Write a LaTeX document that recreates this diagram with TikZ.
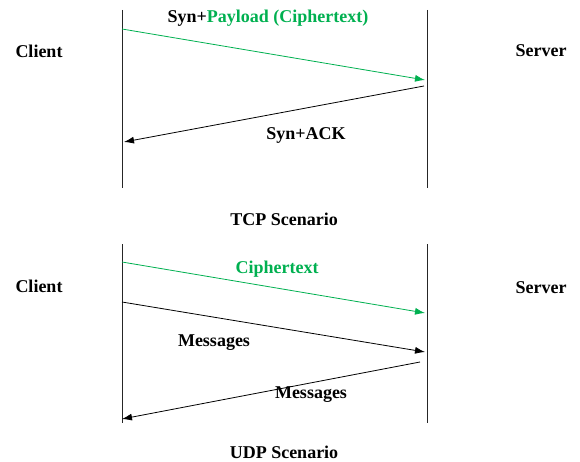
\documentclass[tikz,border=0pt]{standalone}
\usepackage{fontspec}
\setmainfont{Liberation Serif}
\usetikzlibrary{arrows.meta}
\definecolor{msggreen}{RGB}{0,176,80}
\begin{document}
\begin{tikzpicture}[x=1pt,y=-1pt,
  lbl/.style={font=\bfseries\fontsize{18}{20}\selectfont, inner sep=0pt},
  life/.style={line width=0.9pt, black!85},
  msg/.style={line width=0.8pt, -{Latex[length=10pt,width=7pt]}},
  gmsg/.style={msg, msggreen}]
\useasboundingbox (0,0) rectangle (580,462);
% TCP
\coordinate (lt1) at (122,10); \coordinate (lb1) at (122,188);
\coordinate (rt1) at (427,10); \coordinate (rb1) at (427,188);
\draw[life] (lt1) -- (lb1);
\draw[life] (rt1) -- (rb1);
\node[lbl] (client1) at (39,51) {Client};
\node[lbl] (server1) at (541,51) {Server};
\coordinate (a1s) at (122,29); \coordinate (a1e) at (425,80);
\coordinate (a2s) at (424,86); \coordinate (a2e) at (124,142);
\draw[gmsg] (a1s) -- (a1e);
\draw[msg] (a2s) -- (a2e);
\node[lbl] (l1) at (268,18) {Syn+\textcolor{msggreen}{Payload (Ciphertext)}};
\node[lbl] (l2) at (306,135) {Syn+ACK};
\node[lbl] (tcp) at (284,219) {TCP Scenario};
% UDP
\coordinate (lt2) at (122,244); \coordinate (lb2) at (122,423);
\coordinate (rt2) at (427,244); \coordinate (rb2) at (427,423);
\draw[life] (lt2) -- (lb2);
\draw[life] (rt2) -- (rb2);
\node[lbl] (client2) at (39,286) {Client};
\node[lbl] (server2) at (541,288) {Server};
\coordinate (b1s) at (122,262); \coordinate (b1e) at (425,313);
\coordinate (b2s) at (122,302); \coordinate (b2e) at (425,352);
\coordinate (b3s) at (420,362); \coordinate (b3e) at (122,419);
\draw[gmsg] (b1s) -- (b1e);
\draw[msg] (b2s) -- (b2e);
\draw[msg] (b3s) -- (b3e);
\node[lbl, text=msggreen] (l3) at (277,269) {Ciphertext};
\node[lbl] (l4) at (214,343) {Messages};
\node[lbl] (l5) at (311,395) {Messages};
\node[lbl] (udp) at (284,452) {UDP Scenario};
\end{tikzpicture}
\end{document}
